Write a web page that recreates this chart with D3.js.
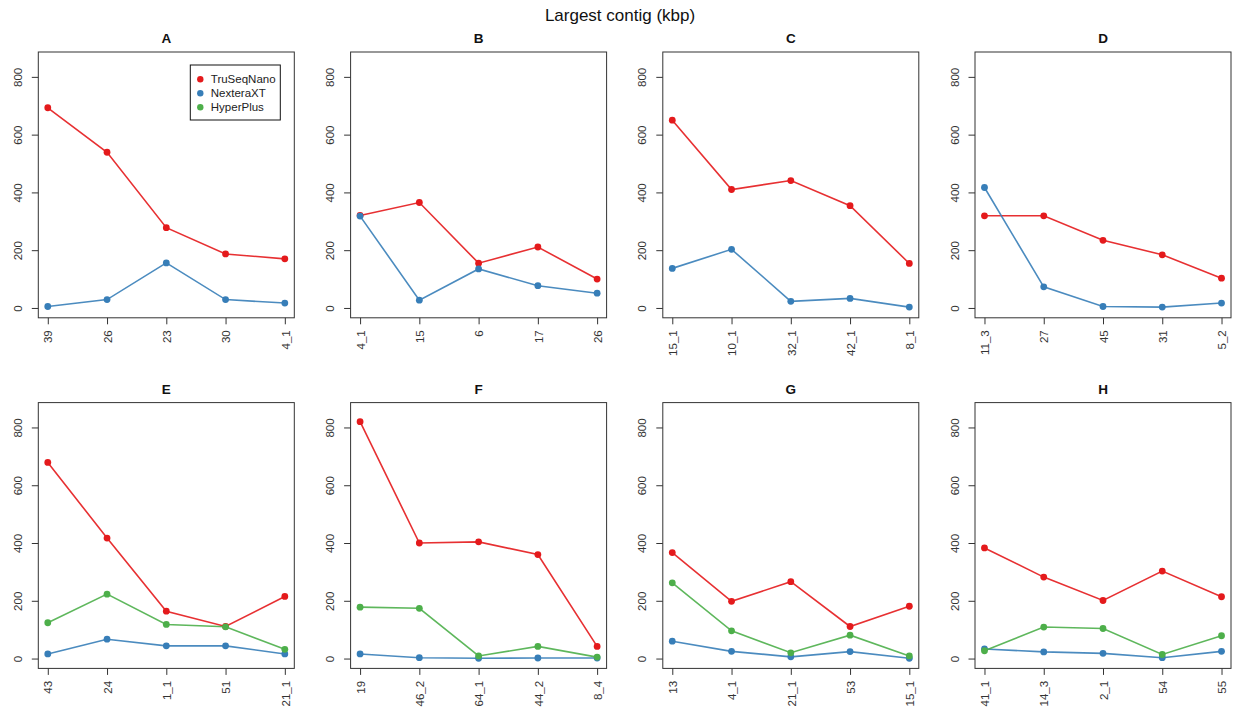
<!DOCTYPE html>
<html>
<head>
<meta charset="utf-8">
<script src="https://cdn.jsdelivr.net/npm/d3@7/dist/d3.min.js"></script>
<style>
  html, body { margin: 0; padding: 0; background: #fff; }
  svg { display: block; font-family: "Liberation Sans", Arial, Helvetica, sans-serif; }
</style>
</head>
<body>
<svg id="chart" width="1233" height="713"></svg>
<script>
// ---- Data ----
const chartTitle = "Largest contig (kbp)";
const panelNames = ["A", "B", "C", "D", "E", "F", "G", "H"];
const seriesNames = ["TruSeqNano", "NexteraXT", "HyperPlus"];
const seriesColors = ["#E41A1C", "#377EB8", "#4DAF4A"];
const yTicks = [0, 200, 400, 600, 800];
const yMax = 852;

const categories = [
  ["39", "26", "23", "30", "4_1"],
  ["4_1", "15", "6", "17", "26"],
  ["15_1", "10_1", "32_1", "42_1", "8_1"],
  ["11_3", "27", "45", "31", "5_2"],
  ["43", "24", "1_1", "51", "21_1"],
  ["19", "46_2", "64_1", "44_2", "8_4"],
  ["13", "4_1", "21_1", "53", "15_1"],
  ["41_1", "14_3", "2_1", "54", "55"]
];

const truSeqNano = [
  [693, 539, 278, 187, 170],
  [320, 365, 155, 211, 100],
  [650, 410, 441, 354, 154],
  [319, 319, 234, 184, 103],
  [679, 417, 164, 111, 215],
  [820, 400, 404, 360, 42],
  [367, 198, 266, 111, 181],
  [383, 282, 201, 303, 214]
];

const nexteraXT = [
  [5, 29, 156, 29, 17],
  [318, 27, 135, 77, 51],
  [137, 203, 23, 33, 3],
  [417, 73, 5, 3, 17],
  [16, 67, 44, 44, 16],
  [16, 3, 1, 2, 2],
  [60, 25, 6, 24, 1],
  [33, 23, 18, 3, 25]
];

const hyperPlus = [
  null, null, null, null,
  [124, 223, 118, 110, 32],
  [178, 174, 9, 42, 5],
  [262, 96, 20, 81, 9],
  [27, 109, 104, 14, 79]
];

// ---- Layout ----
const svg = d3.select("#chart");
const colLefts = [38.3, 350.6, 662.8, 975.0];
const rowTops = [52.0, 402.6];
const boxW = 256.0, boxH = 265.8;
const fontAxis = 11.5;

svg.append("text")
  .attr("x", 620).attr("y", 21)
  .attr("text-anchor", "middle")
  .attr("font-size", 17)
  .attr("fill", "#111")
  .text(chartTitle);

const allSeries = [truSeqNano, nexteraXT, hyperPlus];

panelNames.forEach((name, p) => {
  const col = p % 4, row = Math.floor(p / 4);
  const left = colLefts[col], top = rowTops[row];
  const right = left + boxW, bottom = top + boxH;

  const x = d3.scalePoint().domain(categories[p]).range([left, right]).padding(0.16);
  const y = d3.scaleLinear().domain([-0.04 * yMax, yMax * 1.04]).range([bottom, top]);

  const g = svg.append("g");

  // panel title
  g.append("text")
    .attr("x", (left + right) / 2).attr("y", top - 9)
    .attr("text-anchor", "middle")
    .attr("font-size", 13.5).attr("font-weight", "bold")
    .attr("fill", "#111")
    .text(name);

  // y axis
  const ya = g.append("g")
    .attr("transform", `translate(${left},0)`)
    .call(d3.axisLeft(y).tickValues(yTicks).tickSize(6.5).tickFormat(d3.format("d")));
  ya.select(".domain").remove();
  ya.selectAll(".tick line").attr("stroke", "#333");
  ya.selectAll(".tick text")
    .attr("font-size", fontAxis)
    .attr("font-family", "Liberation Sans, Arial, sans-serif")
    .attr("fill", "#333")
    .attr("text-anchor", "middle")
    .attr("x", 0).attr("dy", 0)
    .attr("transform", "translate(-16.5,0) rotate(-90)");

  // x axis
  const xa = g.append("g")
    .attr("transform", `translate(0,${bottom})`)
    .call(d3.axisBottom(x).tickSize(6.5));
  xa.select(".domain").remove();
  xa.selectAll(".tick line").attr("stroke", "#333");
  xa.selectAll(".tick text")
    .attr("font-size", fontAxis)
    .attr("font-family", "Liberation Sans, Arial, sans-serif")
    .attr("fill", "#333")
    .attr("text-anchor", "end")
    .attr("x", 0).attr("y", 0).attr("dy", 0)
    .attr("transform", "translate(4.2,12.5) rotate(-90)");

  // box
  g.append("rect")
    .attr("x", left).attr("y", top)
    .attr("width", boxW).attr("height", boxH)
    .attr("fill", "none").attr("stroke", "#333").attr("stroke-width", 1);

  // series
  allSeries.forEach((s, si) => {
    const vals = s[p];
    if (!vals) return;
    const pts = vals.map((v, i) => [x(categories[p][i]), y(v)]);
    g.append("path")
      .attr("d", d3.line()(pts))
      .attr("fill", "none")
      .attr("stroke", seriesColors[si])
      .attr("stroke-width", 1.6)
      .attr("stroke-opacity", 0.9);
    g.selectAll(null).data(pts).enter().append("circle")
      .attr("cx", d => d[0]).attr("cy", d => d[1])
      .attr("r", 3.4)
      .attr("fill", seriesColors[si]);
  });

  // legend in panel A
  if (p === 0) {
    const lx = left + 152, ly = top + 13, lw = 90, lh = 55;
    g.append("rect")
      .attr("x", lx).attr("y", ly).attr("width", lw).attr("height", lh)
      .attr("fill", "#fff").attr("stroke", "#111").attr("stroke-width", 1);
    seriesNames.forEach((n, i) => {
      const cy = ly + 14.3 + i * 14;
      g.append("circle").attr("cx", lx + 10).attr("cy", cy).attr("r", 3.2).attr("fill", seriesColors[i]);
      g.append("text")
        .attr("x", lx + 20.5).attr("y", cy + 4)
        .attr("font-size", fontAxis).attr("fill", "#222")
        .text(n);
    });
  }
});
</script>
</body>
</html>
